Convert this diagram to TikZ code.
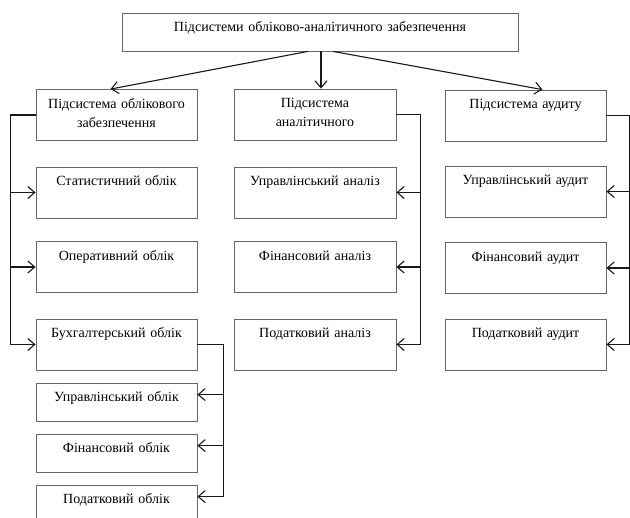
\documentclass[tikz,border=0pt]{standalone}
\usepackage{fontspec}
\setmainfont{Liberation Serif}
\usetikzlibrary{arrows.meta}

\tikzset{
  blok/.style={draw=black!60, line width=0.8pt, inner sep=0pt,
    minimum width=161pt, text width=158pt, align=center,
    font=\fontsize{14}{19}\selectfont, text height=19pt, text depth=32pt},
  nyzkyi/.style={text height=18.5pt, text depth=19.5pt},
  zv/.style={line width=1.1pt, black!90},
  str/.style={zv, -{Straight Barb[length=7pt,width=12pt]}}
}

\begin{document}
\begin{tikzpicture}[x=1pt,y=-1pt]
		%%%%% START %%%%%
		\useasboundingbox (0,0) rectangle (630,518);
		\clip (0,0) rectangle (630,518);
		
		\node[blok, nyzkyi, minimum width=396pt, text width=390pt] (top) at (320,32) {Підсистеми обліково-аналітичного забезпечення};
		
		\node[blok] (obl) at (116.5,115) {Підсистема облікового\\ забезпечення};
		\node[blok, minimum width=162pt] (anal) at (315,114.5) {Підсистема\\ аналітичного};
		\node[blok] (aud) at (525.5,115.5) {Підсистема аудиту};
		
		\node[blok] (stat) at (116.5,192.5) {Статистичний облік};
		\node[blok] (oper) at (116.5,267) {Оперативний облік};
		\node[blok] (buh) at (116.5,344.5) {Бухгалтерський облік};
		
		\node[blok, minimum width=162pt] (upran) at (315,192.5) {Управлінський аналіз};
		\node[blok, minimum width=162pt] (finan) at (315,267) {Фінансовий аналіз};
		\node[blok, minimum width=162pt] (podan) at (315,344.5) {Податковий аналіз};
		
		\node[blok] (upraud) at (525.5,191.5) {Управлінський аудит};
		\node[blok] (finaud) at (525.5,268) {Фінансовий аудит};
		\node[blok] (podaud) at (525.5,344.5) {Податковий аудит};
		
		\node[blok, nyzkyi] (uprobl) at (116.5,402) {Управлінський облік};
		\node[blok, nyzkyi] (finobl) at (116.5,453) {Фінансовий облік};
		\node[blok, nyzkyi] (podobl) at (116.5,504) {Податковий облік};
		
		\draw[str] ([xshift=-12pt]top.south) -- ([xshift=-6pt]obl.north);
		\draw[str] ([xshift=1pt]top.south) -- ([xshift=1pt]top.south |- anal.north);
		\draw[str] ([xshift=13pt]top.south) -- ([xshift=17pt]aud.north);
		
		\coordinate (lbus) at ([xshift=-25pt]obl.west);
		\draw[str] (obl.west) -- (lbus) |- (buh.west);
		\foreach \n in {stat,oper}
			\draw[str] (lbus |- \n.west) -- (\n.west);
		
		\coordinate (sbus) at ([xshift=24pt]anal.east);
		\draw[str] (anal.east) -- (sbus) |- (podan.east);
		\foreach \n in {upran,finan}
			\draw[str] (sbus |- \n.east) -- (\n.east);
		
		\coordinate (pbus) at ([xshift=23pt]aud.east);
		\draw[str] (aud.east) -- (pbus) |- (podaud.east);
		\foreach \n in {upraud,finaud}
			\draw[str] (pbus |- \n.east) -- (\n.east);
		
		\foreach \n in {uprobl,finobl,podobl}
			\coordinate (\n-v) at ([yshift=-12pt]\n.north east);
		\coordinate (bbus) at ([xshift=26pt]buh.east);
		\draw[str] (buh.east) -- (bbus) |- (podobl-v);
		\foreach \n in {uprobl,finobl}
			\draw[str] (bbus |- \n-v) -- (\n-v);
		
		%%%%% END %%%%%
\end{tikzpicture}
\end{document}
